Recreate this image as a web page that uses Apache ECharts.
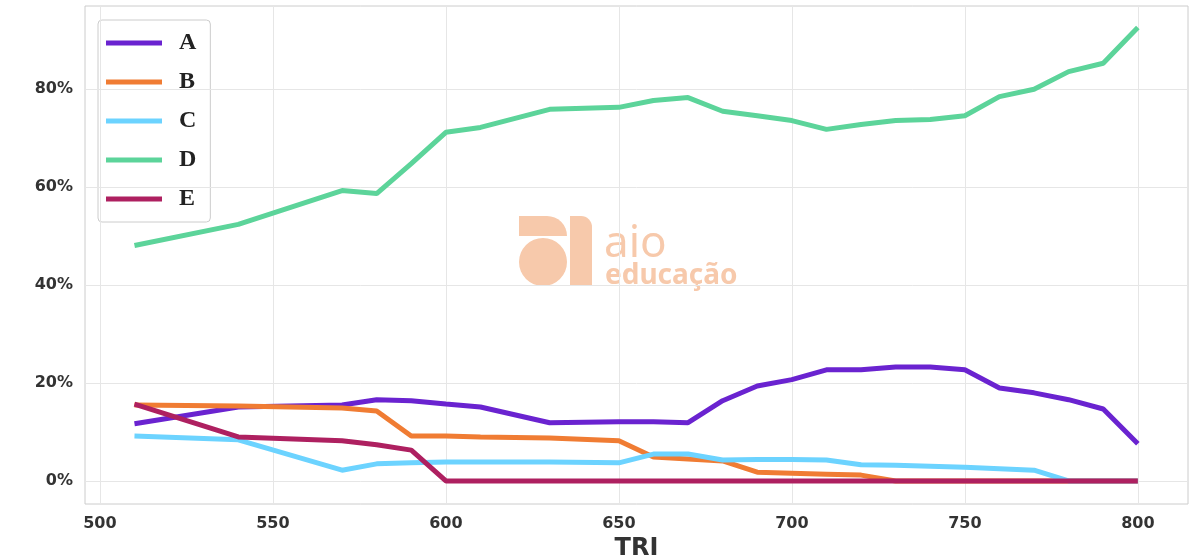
<!DOCTYPE html><html><head><meta charset="utf-8"><script src="https://cdn.jsdelivr.net/npm/echarts@6/dist/echarts.min.js"></script></head><body style="margin:0"><div id="c" style="width:1200px;height:560px"></div><script>
const tri=[510,540,570,580,590,600,610,630,650,660,670,680,690,700,710,720,730,740,750,760,770,780,790,800];
const A=[11.7,15.1,15.5,16.6,16.4,15.7,15.1,11.9,12.1,12.1,11.9,16.4,19.4,20.7,22.7,22.7,23.3,23.3,22.7,19.0,18.0,16.6,14.7,7.6];
const B=[15.5,15.3,14.9,14.3,9.2,9.2,9.0,8.8,8.2,4.9,4.5,4.1,1.8,1.6,1.4,1.2,0,0,0,0,0,0,0,0];
const C=[9.2,8.4,2.2,3.5,3.7,3.9,3.9,3.9,3.7,5.5,5.5,4.3,4.4,4.4,4.3,3.3,3.2,3.0,2.8,2.5,2.2,0,0,0];
const D=[48.1,52.4,59.3,58.7,64.8,71.2,72.2,75.9,76.3,77.7,78.3,75.5,74.6,73.6,71.8,72.8,73.6,73.8,74.6,78.5,80.0,83.6,85.3,92.6];
const E=[15.7,9.0,8.2,7.4,6.3,0,0,0,0,0,0,0,0,0,0,0,0,0,0,0,0,0,0,0];
const xTicks=[500,550,600,650,700,750,800];
const yTicks=[0,20,40,60,80];
const names=['A','B','C','D','E'],data=[A,B,C,D,E];
const colors=['#6a23d0','#f07c33','#6cd3ff','#5cd49a','#ae2060'];
const series=names.map((n,i)=>({name:n,type:'line',zlevel:1,data:tri.map((x,j)=>[x,data[i][j]]),showSymbol:false,lineStyle:{width:5,color:colors[i]},itemStyle:{color:colors[i]},z:3}));
series.push({type:'line',data:[],silent:true,zlevel:0,markLine:{symbol:'none',silent:true,label:{show:false},lineStyle:{color:'#e6e6e6',width:1,type:'solid'},
 data:[...xTicks.map(v=>({xAxis:v})),...yTicks.map(v=>({yAxis:v}))]},z:1});
const ch=echarts.init(document.getElementById('c'));
ch.setOption({animation:false,
 grid:{left:85,right:12,top:6,bottom:56,outerBoundsMode:'none',containLabel:false,show:true,borderColor:'#cccccc',borderWidth:1},
 graphic:[{type:'text',left:604,top:222,style:{text:'aio',fontSize:44,fill:'#f7c9ab',fontFamily:'Noto Sans'}},
  {type:'text',left:605,top:262,style:{text:'educação',fontSize:28,fontWeight:'bold',fill:'#f7c9ab',fontFamily:'Noto Sans'}},
  {type:'rect',shape:{x:519,y:216,width:48,height:20,r:[0,20,0,0]},style:{fill:'#f7c9ab'}},
  {type:'rect',shape:{x:570,y:216,width:22,height:70,r:[0,11,0,0]},style:{fill:'#f7c9ab'}},
  {type:'circle',shape:{cx:543,cy:262,r:24},style:{fill:'#f7c9ab'}}],
 legend:{orient:'vertical',left:98,top:20,itemWidth:56,itemHeight:5,itemGap:15,padding:[11,14,11,8],borderColor:'#cccccc',borderWidth:1,borderRadius:4,backgroundColor:'#fff',
  textStyle:{fontFamily:'Liberation Serif',fontSize:24,fontWeight:'bold',color:'#222',padding:[0,0,0,12]},icon:'rect'},
 xAxis:{type:'value',min:495.7,max:814.5,name:'TRI',nameLocation:'middle',nameGap:30,nameTextStyle:{fontSize:24,fontWeight:'bold',color:'#333',fontFamily:'DejaVu Sans'},
  axisLine:{show:false},axisTick:{show:false},splitLine:{show:false},
  axisLabel:{customValues:xTicks,fontSize:16,fontWeight:'bold',color:'#333',fontFamily:'DejaVu Sans',margin:12}},
 yAxis:{type:'value',min:-4.7,max:97,axisLine:{show:false},axisTick:{show:false},splitLine:{show:false},
  axisLabel:{customValues:yTicks,formatter:v=>v+'%',fontSize:16,fontWeight:'bold',color:'#333',fontFamily:'DejaVu Sans',margin:12}},
 series});
</script></body></html>
